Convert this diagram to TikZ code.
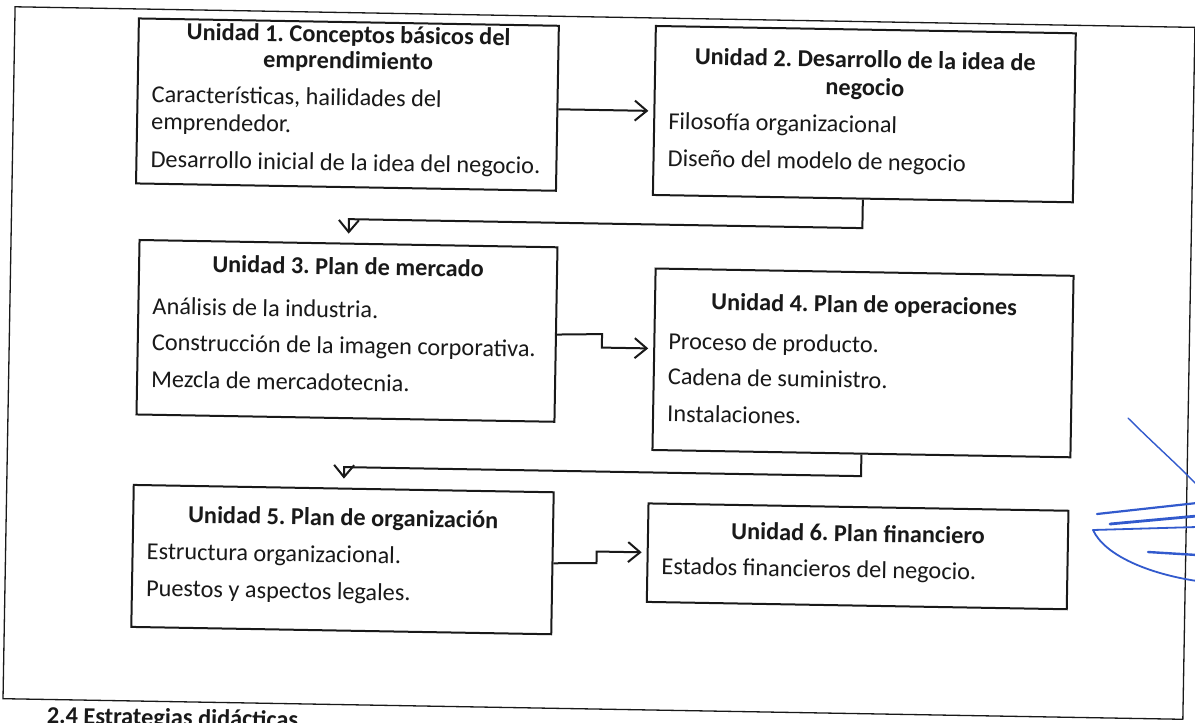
\documentclass[tikz,border=0pt]{standalone}
\usepackage{fontspec}
\setmainfont{Carlito}
\usetikzlibrary{arrows.meta,calc}
\definecolor{ink}{RGB}{25,25,25}
\definecolor{pen}{RGB}{50,90,205}
\frenchspacing
\begin{document}
\frenchspacing
\begin{tikzpicture}[x=1pt,y=-1pt,
  ubox/.style={draw=ink, line width=2pt, rectangle, inner sep=0pt, anchor=north west},
  ttl/.style={font=\fontsize{24.3}{28}\selectfont\bfseries\frenchspacing, anchor=base, inner sep=0pt, text=ink},
  bdy/.style={font=\fontsize{24.3}{28}\selectfont\frenchspacing, anchor=base west, inner sep=0pt, text=ink},
  conn/.style={draw=ink, line width=2pt, -{Straight Barb[length=12pt,width=20pt,line width=2pt]}, shorten >=5pt},
  dconn/.style={conn, shorten >=9pt},
  frame/.style={draw=ink, line width=1.3pt},
  penline/.style={draw=pen, line width=1.8pt, line cap=round}]
\useasboundingbox (0,0) rectangle (1195,723);
\fill[white] (0,0) rectangle (1195,723);
\clip (0,0) rectangle (1195,723);
\begin{scope}[rotate around={-1:(597,361)}, transform shape]
  \draw[frame] (9,17) rectangle (1189,709);
  % boxes
  \node[ubox, minimum width=420pt, minimum height=165pt] (b1) at (132,25.5) {};
  \node[ubox, minimum width=420pt, minimum height=169pt] (b2) at (649,24) {};
  \node[ubox, minimum width=418pt, minimum height=174.5pt] (b3) at (136.5,247) {};
  \node[ubox, minimum width=418pt, minimum height=181.5pt] (b4) at (653,266.5) {};
  \node[ubox, minimum width=420pt, minimum height=142pt] (b5) at (135,492) {};
  \node[ubox, minimum width=420pt, minimum height=98.5pt] (b6) at (650,501.5) {};
  % box 1
  \node[ttl] (t1a) at ($(b1.north)+(0,21.5)$) {Unidad 1. Conceptos básicos del};
  \node[ttl] (t1b) at ($(b1.north)+(0,47.5)$) {emprendimiento};
  \node[bdy] (l1a) at ($(b1.north west)+(15,84.5)$) {Características, hailidades del};
  \node[bdy] (l1b) at ($(b1.north west)+(15,112)$) {emprendedor.};
  \node[bdy] (l1c) at ($(b1.north west)+(15,149.5)$) {Desarrollo inicial de la idea del negocio.};
  % box 2
  \node[ttl] (t2a) at ($(b2.north)+(0,39)$) {Unidad 2. Desarrollo de la idea de};
  \node[ttl] (t2b) at ($(b2.north)+(0,67)$) {negocio};
  \node[bdy] (l2a) at ($(b2.north west)+(15,104)$) {Filosofía organizacional};
  \node[bdy] (l2b) at ($(b2.north west)+(15,141)$) {Diseño del modelo de negocio};
  % box 3
  \node[ttl] (t3) at ($(b3.north)+(0,32)$) {Unidad 3. Plan de mercado};
  \node[bdy] (l3a) at ($(b3.north west)+(15,75)$) {Análisis de la industria.};
  \node[bdy] (l3b) at ($(b3.north west)+(15,111)$) {Construcción de la imagen corporativa.};
  \node[bdy] (l3c) at ($(b3.north west)+(15,148)$) {Mezcla de mercadotecnia.};
  % box 4
  \node[ttl] (t4) at ($(b4.north)+(0,41.5)$) {Unidad 4. Plan de operaciones};
  \node[bdy] (l4a) at ($(b4.north west)+(15,81.5)$) {Proceso de producto.};
  \node[bdy] (l4b) at ($(b4.north west)+(15,117)$) {Cadena de suministro.};
  \node[bdy] (l4c) at ($(b4.north west)+(15,154)$) {Instalaciones.};
  % box 5
  \node[ttl] (t5) at ($(b5.north)+(0,38)$) {Unidad 5. Plan de organización};
  \node[bdy] (l5a) at ($(b5.north west)+(15,75)$) {Estructura organizacional.};
  \node[bdy] (l5b) at ($(b5.north west)+(15,112)$) {Puestos y aspectos legales.};
  % box 6
  \node[ttl] (t6) at ($(b6.north)+(0,35.5)$) {Unidad 6. Plan financiero};
  \node[bdy] (l6a) at ($(b6.north west)+(15,71.5)$) {Estados financieros del negocio.};
  % connectors
  \draw[conn] (b1.east |- 0,110) -- (b2.west |- 0,110);
  \draw[dconn] (b2.south) -- ++(0,28.5) -| (b3.north);
  \coordinate (s34a) at (601.6,334);
  \coordinate (s34b) at (601.6,347.5);
  \draw[conn] (b3.east) -- (s34a) -- (s34b) -- (b4.west |- s34b);
  \draw[dconn] (b4.south) -- ++(0,21.5) -| (b5.north);
  \coordinate (s56a) at (600,563);
  \coordinate (s56b) at (600,551.5);
  \draw[conn] (b5.east) -- (s56a) -- (s56b) -- (b6.west |- s56b);
  % caption
  \node[ttl, anchor=base west] (cap) at (53,733) {2.4 Estrategias didácticas};
\end{scope}
% blue pen marks
\draw[penline, line width=1.4pt] (1128,418) .. controls (1155,445) and (1178,465) .. (1197,485);
\draw[penline, line width=2.2pt] (1097,514) -- (1197,503);
\draw[penline, line width=2.8pt] (1110,524) -- (1197,516);
\draw[penline] (1093,530) -- (1197,527);
\draw[penline] (1093,530) .. controls (1105,556) and (1150,574) .. (1197,581);
\draw[penline, line width=2.4pt] (1148,552) -- (1197,555);
\end{tikzpicture}
\end{document}
